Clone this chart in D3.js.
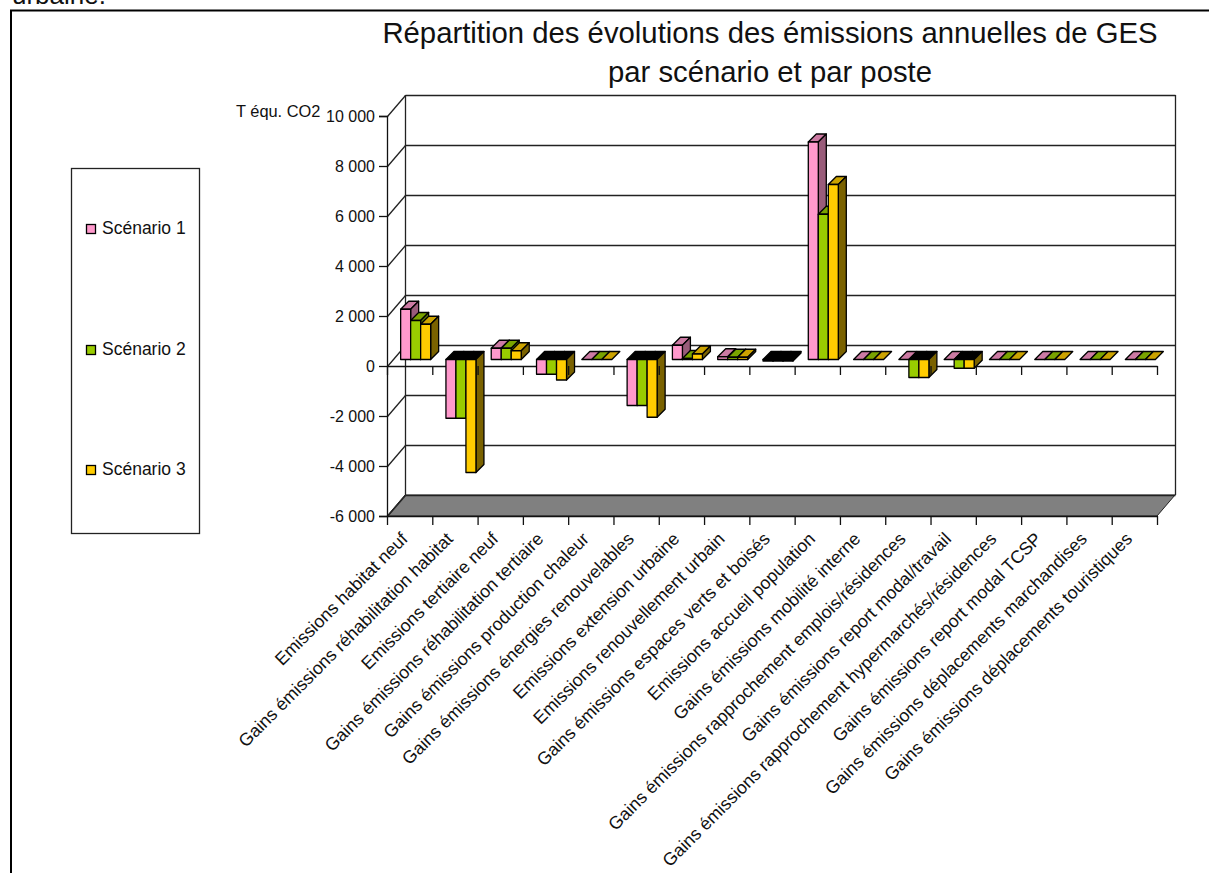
<!DOCTYPE html>
<html>
<head>
<meta charset="utf-8">
<script src="https://d3js.org/d3.v7.min.js"></script>
<style>
    html, body { margin: 0; padding: 0; background: #fff; overflow: hidden; }
    text { font-family: "Liberation Sans", Arial, sans-serif; fill: #111; }
</style>
</head>
<body>
<script>
// chart values
var categories = [
    "Emissions habitat neuf",
    "Gains émissions réhabilitation habitat",
    "Emissions tertiaire neuf",
    "Gains émissions réhabilitation tertiaire",
    "Gains émissions production chaleur",
    "Gains émissions énergies renouvelables",
    "Emissions extension urbaine",
    "Emissions renouvellement urbain",
    "Gains émissions espaces verts et boisés",
    "Emissions accueil population",
    "Gains émissions mobilité interne",
    "Gains émissions rapprochement emplois/résidences",
    "Gains émissions report modal/travail",
    "Gains émissions rapprochement hypermarchés/résidences",
    "Gains émissions report modal TCSP",
    "Gains émissions déplacements marchandises",
    "Gains émissions déplacements touristiques"
];
var seriesNames = ["Scénario 1", "Scénario 2", "Scénario 3"];
var scenario1 = [2010, -2350, 450, -590, 0, -1840, 570, 110, -60, 8700, 0, 0, 0, 0, 0, 0, 0];
var scenario2 = [1560, -2350, 450, -590, 0, -1840, 40, 90, -60, 5810, 0, -720, -350, 0, 0, 0, 0];
var scenario3 = [1410, -4520, 350, -820, 0, -2310, 220, 90, -60, 7000, 0, -720, -350, 0, 0, 0, 0];
var seriesValues = [scenario1, scenario2, scenario3];
var yTicks = [-6000, -4000, -2000, 0, 2000, 4000, 6000, 8000, 10000];
var yTickLabels = ["-6 000", "-4 000", "-2 000", "0", "2 000", "4 000", "6 000", "8 000", "10 000"];

var frontColors = ["#ff99cc", "#99cc00", "#ffcc00"];
var topColors = ["#cc7aa3", "#7aa300", "#cca300"];
var sideColors = ["#995c7a", "#5c7a00", "#7a6200"];

// the 3d box: front plane and how far the back wall is shifted
var depthX = 18, depthY = -21;
var barShiftX = 6, barShiftY = -6.5; // bars stand a bit behind the front plane
var barDepth = 8;

var svg = d3.select("body").append("svg")
    .attr("width", 1209)
    .attr("height", 873);

var xScale = d3.scaleBand().domain(categories).range([387, 1157]);
var xEdge = d3.scaleLinear().domain([0, categories.length]).range([387, 1157]);
var xInner = d3.scaleBand().domain(seriesNames).range([-15, 15]);
var yScale = d3.scaleLinear().domain([-6000, 10000]).range([516, 116]);

// text of the page above the chart and the page frame (no right edge in view)
svg.append("text").attr("x", 12).attr("y", 4)
    .attr("font-size", 26).text("urbaine.");
svg.append("path")
    .attr("d", "M11,873V10.5H1209")
    .attr("fill", "none").attr("stroke", "#000").attr("stroke-width", 2);

// title
svg.append("text").attr("x", 770).attr("y", 43)
    .attr("text-anchor", "middle").attr("font-size", 29.3)
    .text("Répartition des évolutions des émissions annuelles de GES");
svg.append("text").attr("x", 770).attr("y", 82)
    .attr("text-anchor", "middle").attr("font-size", 29.3)
    .text("par scénario et par poste");

// legend
svg.append("rect").attr("x", 71.5).attr("y", 168.5)
    .attr("width", 128).attr("height", 365)
    .attr("fill", "#fff").attr("stroke", "#222").attr("stroke-width", 1.3);
var legendY = [229, 350, 470];
seriesNames.forEach(function(name, i) {
    svg.append("rect").attr("x", 86.5).attr("y", legendY[i] - 4.5)
        .attr("width", 9).attr("height", 9)
        .attr("fill", frontColors[i]).attr("stroke", "#000").attr("stroke-width", 1.3);
    svg.append("text").attr("x", 102).attr("y", legendY[i] + 5)
        .attr("font-size", 17.5).text(name);
});

// floor
svg.append("polygon")
    .attr("points", [
        [387, yScale(-6000)],
        [387 + depthX, yScale(-6000) + depthY],
        [1157 + depthX, yScale(-6000) + depthY],
        [1157, yScale(-6000)]
    ].join(" "))
    .attr("fill", "#808080").attr("stroke", "#222");

// back wall grid and left wall
var grid = svg.append("g").attr("stroke", "#222").attr("stroke-width", 1.3).attr("fill", "none");
yTicks.forEach(function(v) {
    var y = Math.round(yScale(v)) + 0.5;
    grid.append("line").attr("x1", 405.5).attr("x2", 1175.5)
        .attr("y1", y + depthY).attr("y2", y + depthY);
    grid.append("line").attr("x1", 387.5).attr("x2", 405.5)
        .attr("y1", y).attr("y2", y + depthY);
});
grid.append("line").attr("x1", 405.5).attr("x2", 405.5)
    .attr("y1", yScale(10000) + depthY).attr("y2", yScale(-6000) + depthY);
grid.append("line").attr("x1", 1175.5).attr("x2", 1175.5)
    .attr("y1", yScale(10000) + depthY).attr("y2", yScale(-6000) + depthY);

// zero line goes under the bars, its ticks are seen over them
var edges = d3.range(categories.length + 1);
svg.append("line").attr("x1", 387).attr("x2", 1157.5)
    .attr("y1", yScale(0) + 0.5).attr("y2", yScale(0) + 0.5)
    .attr("stroke", "#111").attr("stroke-width", 1.3);

// bars, one series after the other: top, side, front
seriesValues.forEach(function(values, s) {
    var g = svg.append("g").attr("stroke", "#000").attr("stroke-width", 1.3)
        .attr("stroke-linejoin", "round");
    var w = xInner.bandwidth();
    categories.forEach(function(c, i) {
        var x0 = xScale(c) + xScale.bandwidth() / 2 + barShiftX + xInner(seriesNames[s]);
        var x1 = x0 + w;
        var zero = yScale(0) + barShiftY;
        var val = yScale(values[i]) + barShiftY;
        var top = Math.min(zero, val);
        var bottom = Math.max(zero, val);
        var neg = values[i] < 0;
        // the top cap sits at the zero level for negative bars
        g.append("polygon")
            .attr("points", [[x0, top], [x0 + barDepth, top - barDepth],
                [x1 + barDepth, top - barDepth], [x1, top]].join(" "))
            .attr("fill", neg ? "#000" : topColors[s]);
        if (values[i] !== 0) {
            g.append("polygon")
                .attr("points", [[x1, top], [x1 + barDepth, top - barDepth],
                    [x1 + barDepth, bottom - barDepth], [x1, bottom]].join(" "))
                .attr("fill", sideColors[s]);
            g.append("rect")
                .attr("x", x0).attr("y", top)
                .attr("width", w).attr("height", bottom - top)
                .attr("fill", frontColors[s]);
        }
    });
});

// axes
var yAxis = d3.axisLeft(yScale)
    .tickValues(yTicks)
    .tickFormat(function(d, i) { return yTickLabels[i]; })
    .tickSize(8)
    .tickPadding(4);
var gy = svg.append("g")
    .attr("transform", "translate(387,0)")
    .call(yAxis);
gy.selectAll("text").attr("font-size", 16).attr("font-family", null);
gy.selectAll("line").attr("stroke", "#111").attr("stroke-width", 1.3);
gy.select(".domain").attr("stroke", "#111").attr("stroke-width", 1.3);

var edgeAxis = d3.axisBottom(xEdge).tickValues(edges).tickFormat("").tickSize(9).tickSizeOuter(0);
var gZero = svg.append("g")
    .attr("transform", "translate(0," + yScale(0) + ")")
    .call(edgeAxis);
gZero.select(".domain").remove();
gZero.selectAll("line").attr("stroke", "#111").attr("stroke-width", 1.3);
var gBottom = svg.append("g")
    .attr("transform", "translate(0," + yScale(-6000) + ")")
    .call(edgeAxis);
gBottom.selectAll("line").attr("stroke", "#111").attr("stroke-width", 1.3);
gBottom.select(".domain").attr("stroke", "#111").attr("stroke-width", 1.3);

// unit beside the top tick
svg.append("text").attr("x", 236).attr("y", 117)
    .attr("font-size", 16.4).text("T équ. CO2");

// category labels, turned 45 degrees, ending under each band
svg.append("g").selectAll("text")
    .data(categories)
    .enter()
    .append("text")
    .attr("text-anchor", "end")
    .attr("font-size", 17.8)
    .attr("transform", function(d) {
        return "translate(" + (xScale(d) + xScale.bandwidth() / 2 - 1) + ",540) rotate(-45)";
    })
    .text(function(d) { return d; });
</script>
</body>
</html>
